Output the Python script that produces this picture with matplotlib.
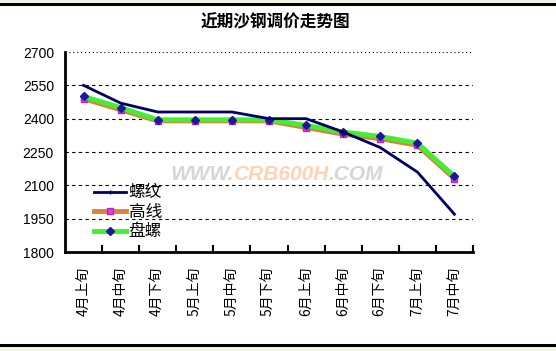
import matplotlib.pyplot as plt
from matplotlib.patches import Rectangle
from matplotlib.lines import Line2D

plt.rcParams['font.family'] = ['Noto Sans CJK SC', 'DejaVu Sans']

# 数据
periods = ['4月上旬', '4月中旬', '4月下旬', '5月上旬', '5月中旬', '5月下旬',
           '6月上旬', '6月中旬', '6月下旬', '7月上旬', '7月中旬']
luowen = [2550, 2470, 2430, 2430, 2430, 2400, 2400, 2340, 2270, 2160, 1970]
gaoxian = [2490, 2440, 2390, 2390, 2390, 2390, 2360, 2330, 2310, 2280, 2130]
panluo = [2500, 2450, 2395, 2395, 2395, 2395, 2370, 2340, 2320, 2290, 2140]
yticks = [1800, 1950, 2100, 2250, 2400, 2550, 2700]

W, H = 556, 351
fig = plt.figure(figsize=(W / 100, H / 100), dpi=100)
fig.patch.set_facecolor('white')

# 上下边框（表格背景）
fig.patches.append(Rectangle((0, 1 - 3 / H), 1, 3 / H, transform=fig.transFigure,
                             facecolor='#eef6e8', edgecolor='none'))
fig.patches.append(Rectangle((0, 1 - 6 / H), 1, 3 / H, transform=fig.transFigure,
                             facecolor='black', edgecolor='none'))
fig.patches.append(Rectangle((0, 0), 1, 4 / H, transform=fig.transFigure,
                             facecolor='#eef6e8', edgecolor='none'))
fig.patches.append(Rectangle((0, 4 / H), 1, 3 / H, transform=fig.transFigure,
                             facecolor='black', edgecolor='none'))

left, right, top, bottom = 65, 473, 52, 252
ax = fig.add_axes([left / W, (H - bottom) / H, (right - left) / W, (bottom - top) / H])
ax.set_facecolor('none')

x = list(range(len(periods)))
ax.set_xlim(-0.5, len(periods) - 0.5)
ax.set_ylim(1800, 2700)

# 网格线
for v in yticks[1:-1]:
    ax.axhline(v, color='black', lw=0.8, ls=(0, (3, 3)), zorder=1)
ax.axhline(2700, color='black', lw=0.8, ls=(0, (1, 2.5)), zorder=1)

# 水印（三段拼接）
renderer = fig.canvas.get_renderer()
xpos = 170
for part, col in [('WWW.', '#d6d6d6'), ('CRB600H', '#ffd2b5'), ('.COM', '#d6d6d6')]:
    t = fig.text(xpos / W, 1 - 174 / H, part, color=col, fontsize=15, fontweight='bold',
                 style='italic', family='Liberation Sans', va='center', ha='left', zorder=0)
    xpos += t.get_window_extent(renderer).width

ax.plot(x, gaoxian, color='#d9823f', lw=3.5, marker='s', ms=4,
        mfc='#e040e0', mec='#c020c0', zorder=3)
ax.plot(x, panluo, color='#44ee33', lw=3.5, marker='D', ms=4,
        mfc='#1a1a99', mec='#1a1a99', zorder=4)
ax.plot(x, luowen, color='#000066', lw=2, zorder=5)

for s in ['top', 'right']:
    ax.spines[s].set_visible(False)
for s in ['left', 'bottom']:
    ax.spines[s].set_linewidth(2)
    ax.spines[s].set_color('black')

ax.set_yticks(yticks)
ax.set_yticklabels([str(v) for v in yticks], fontsize=10, family='Liberation Sans')
ax.tick_params(axis='y', length=0, pad=8)

ax.set_xticks([i + 0.5 for i in x])
ax.set_xticklabels([])
ax.tick_params(axis='x', direction='in', length=5, width=1.5)
for i, p in enumerate(periods):
    ax.text(i, 1800 - 65, p, rotation=90, ha='center', va='top', fontsize=10)

# 标题
fig.text(275 / W, 1 - 22 / H, '近期沙钢调价走势图', ha='center', va='center',
         fontsize=12, fontweight='bold')

# 图例
handles = [
    Line2D([], [], color='#000066', lw=2, marker='+', ms=3),
    Line2D([], [], color='#d9823f', lw=3.5, marker='s', ms=4, mfc='#e040e0', mec='#c020c0'),
    Line2D([], [], color='#44ee33', lw=3.5, marker='D', ms=4, mfc='#1a1a99', mec='#1a1a99'),
]
leg = ax.legend(handles, ['螺纹', '高线', '盘螺'], loc='upper left',
                bbox_to_anchor=(86 / W, 1 - 176 / H), bbox_transform=fig.transFigure,
                frameon=False, fontsize=12, handlelength=1.9, handletextpad=0.15,
                labelspacing=0.15, borderpad=0)

fig.savefig('out.png', dpi=100)
